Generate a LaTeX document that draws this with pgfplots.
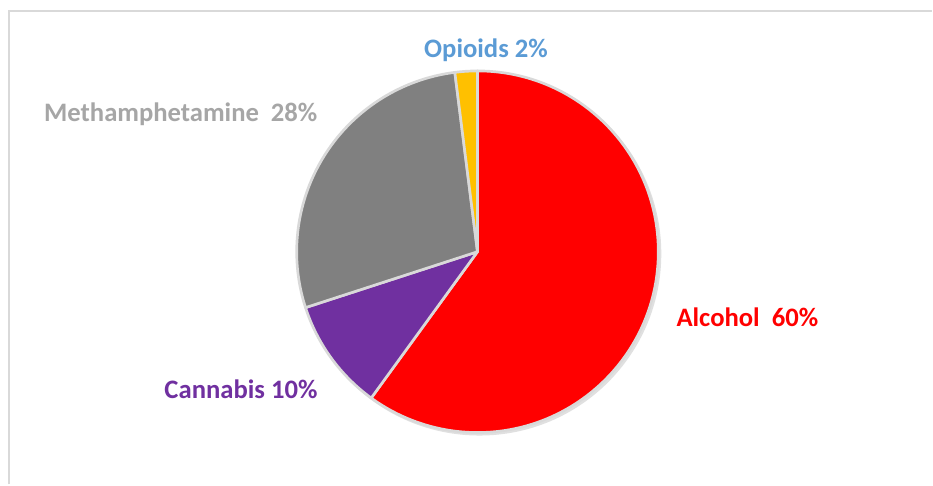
\documentclass[border=0pt]{standalone}
\usepackage{pgfplots}
\pgfplotsset{compat=1.18}
\usepackage{fontspec}
\setmainfont{Carlito}
\definecolor{alcohol}{HTML}{FF0000}
\definecolor{cannabis}{HTML}{7030A0}
\definecolor{meth}{HTML}{808080}
\definecolor{opioid}{HTML}{FFC000}
\definecolor{methlab}{HTML}{A6A6A6}
\definecolor{opilab}{HTML}{5B9BD5}
\definecolor{edge}{HTML}{D9D9D9}
\begin{document}
\begin{tikzpicture}
\begin{axis}[
  hide axis, scale only axis, clip=false,
  width=699.75pt, height=363.75pt,
  xmin=0, xmax=933, ymin=0, ymax=485,
]
% full canvas
\path[fill=white] (axis cs:0,0) rectangle (axis cs:933,485);
% frame (left and top edges)
\draw[edge, line width=1.5pt] (axis cs:9,0) -- (axis cs:9,474) -- (axis cs:933,474);
% soft shadow
\fill[black!12] (axis cs:480,231) circle[radius=136.5pt];
% slices: Alcohol 60, Cannabis 10, Methamphetamine 28, Opioids 2 (clockwise from top)
\filldraw[fill=alcohol, draw=edge, line width=2pt, line join=round]
  (axis cs:478,233) -- (axis cs:{478+181*cos(90)},{233+181*sin(90)})
  arc[start angle=90, end angle={90-3.6*60}, radius=135.75pt] -- cycle;
\filldraw[fill=cannabis, draw=edge, line width=2pt, line join=round]
  (axis cs:478,233) -- (axis cs:{478+181*cos(90-3.6*60)},{233+181*sin(90-3.6*60)})
  arc[start angle={90-3.6*60}, end angle={90-3.6*70}, radius=135.75pt] -- cycle;
\filldraw[fill=meth, draw=edge, line width=2pt, line join=round]
  (axis cs:478,233) -- (axis cs:{478+181*cos(90-3.6*70)},{233+181*sin(90-3.6*70)})
  arc[start angle={90-3.6*70}, end angle={90-3.6*98}, radius=135.75pt] -- cycle;
\filldraw[fill=opioid, draw=edge, line width=2pt, line join=round]
  (axis cs:478,233) -- (axis cs:{478+181*cos(90-3.6*98)},{233+181*sin(90-3.6*98)})
  arc[start angle={90-3.6*98}, end angle={90-3.6*100}, radius=135.75pt] -- cycle;
% labels
\node[anchor=base west, text=alcohol, font=\fontsize{20}{24}\selectfont\bfseries, inner sep=0pt]
  at (axis cs:677,158) {Alcohol\ \ 60\%};
\node[anchor=base east, text=cannabis, font=\fontsize{20}{24}\selectfont\bfseries, inner sep=0pt]
  at (axis cs:318,86) {Cannabis 10\%};
\node[anchor=base east, text=methlab, font=\fontsize{20}{24}\selectfont\bfseries, inner sep=0pt]
  at (axis cs:318,363) {Methamphetamine\ \ 28\%};
\node[anchor=base, text=opilab, font=\fontsize{20}{24}\selectfont\bfseries, inner sep=0pt]
  at (axis cs:486.5,427) {Opioids 2\%};
\end{axis}
\end{tikzpicture}
\end{document}
